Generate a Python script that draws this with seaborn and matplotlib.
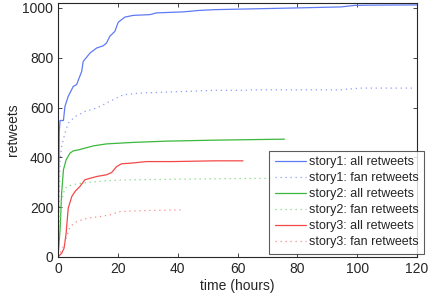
import numpy as np
import pandas as pd
import seaborn as sns
import matplotlib
matplotlib.use("Agg")
import matplotlib.pyplot as plt

# story 1
s1_all_t = [0, 0.4, 0.67, 1.8, 2.3, 3.4, 5.1, 6.2, 7.9, 8.4, 10.7, 12.9, 15.1, 16.2, 17.3,
            19.0, 19.6, 20.1, 22.3, 25.1, 30.7, 32.9, 41.8, 47.3, 52.3, 80.0, 94.6, 99.0,
            103.4, 120.0]
s1_all_y = [0, 504, 548, 548, 604, 645, 685, 692, 745, 785, 819, 839, 848, 859, 886,
            906, 926, 942, 963, 970, 973, 980, 984, 990, 993, 1000, 1004, 1010,
            1011, 1012]
s1_fan_t = [0, 0.67, 1.2, 2.3, 3.4, 5.7, 9.0, 12.9, 16.2, 19.6, 21.8, 27.3, 52.3, 62.3,
            64.6, 94.6, 96.8, 101.0, 119.0]
s1_fan_y = [0, 390, 443, 497, 537, 564, 584, 598, 618, 638, 651, 658, 669, 669,
            671, 671, 674, 678, 678]

# story 2
s2_all_t = [0, 0.67, 1.2, 1.8, 2.7, 4.0, 5.1, 6.8, 11.8, 16.2, 25.1, 36.2, 52.3, 75.7]
s2_all_y = [0, 109, 256, 350, 390, 417, 426, 430, 446, 454, 460, 465, 469, 473]
s2_fan_t = [0, 0.4, 1.2, 2.3, 4.6, 9.6, 17.3, 25.1, 52.3, 72.0]
s2_fan_y = [0, 122, 229, 276, 290, 299, 307, 310, 314, 316]

# story 3
s3_all_t = [0, 1.2, 2.0, 2.7, 3.4, 4.6, 5.7, 7.3, 9.0, 10.7, 12.9, 16.2, 17.9, 19.6,
            21.2, 24.6, 29.6, 38.4, 52.3, 61.8]
s3_all_y = [0, 15, 35, 95, 196, 243, 263, 283, 310, 316, 323, 330, 339, 363,
            374, 377, 383, 383, 386, 386]
s3_fan_t = [0, 0.2, 1.8, 2.9, 4.0, 6.2, 9.6, 14.0, 17.3, 20.7, 25.1, 31.8, 41.8]
s3_fan_y = [0, 5, 41, 82, 122, 142, 155, 162, 169, 182, 185, 187, 189]

labels = ["story1: all retweets", "story1: fan retweets",
          "story2: all retweets", "story2: fan retweets",
          "story3: all retweets", "story3: fan retweets"]

sns.set_style("ticks")
plt.rcParams['font.family'] = ['Liberation Sans', 'DejaVu Sans']
plt.rcParams['xtick.direction'] = 'in'
plt.rcParams['ytick.direction'] = 'in'

fig = plt.figure(figsize=(4.3, 2.93), dpi=100)
ax = fig.add_axes([0.135, 0.123, 0.835, 0.867])

dots = (0, (1, 3))
series = [(s1_all_t, s1_all_y, "#5f7af5", "-"),
          (s1_fan_t, s1_fan_y, "#8f9cf8", dots),
          (s2_all_t, s2_all_y, "#3cb83c", "-"),
          (s2_fan_t, s2_fan_y, "#86d486", dots),
          (s3_all_t, s3_all_y, "#f44848", "-"),
          (s3_fan_t, s3_fan_y, "#f78a8a", dots)]

for (t, y, c, ls), lab in zip(series, labels):
    sns.lineplot(x=t, y=y, ax=ax, color=c, linestyle=ls, linewidth=0.9,
                 estimator=None, sort=False, label=lab)

ax.set_xlim(0, 120)
ax.set_ylim(0, 1020)
ax.set_xticks(range(0, 121, 20))
ax.set_yticks(range(0, 1001, 200))
ax.tick_params(labelsize=10, length=3, width=0.6, top=True, right=True)
for sp in ax.spines.values():
    sp.set_linewidth(0.8)
    sp.set_visible(True)
ax.set_xlabel("time (hours)", fontsize=10, labelpad=2)
ax.set_ylabel("retweets", fontsize=10, labelpad=2)

leg = ax.legend(loc="lower right", bbox_to_anchor=(1.02, 0.012), fontsize=9,
                frameon=True, fancybox=False, edgecolor="#333333",
                borderpad=0.45, labelspacing=0.32, handlelength=2.5,
                handletextpad=0.25, borderaxespad=0)
leg.get_frame().set_linewidth(0.8)

fig.savefig("out.png", dpi=100)
